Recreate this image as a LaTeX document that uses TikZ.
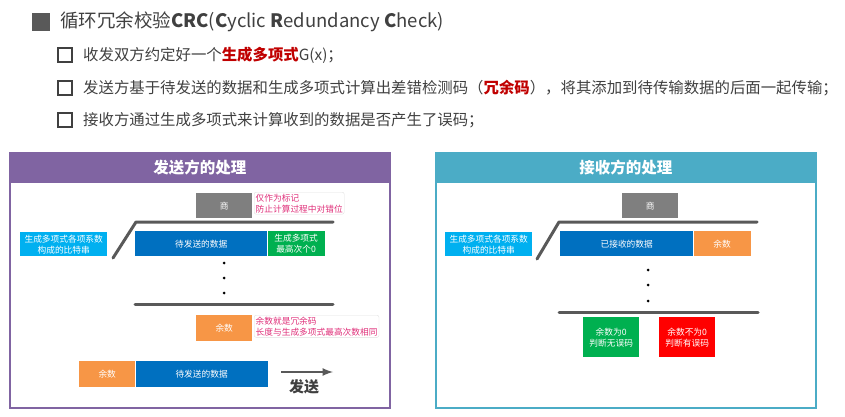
\documentclass[tikz,border=0pt]{standalone}
\usepackage{fontspec}
\setmainfont{Noto Sans CJK SC}
\usepackage{tikz}
\usetikzlibrary{positioning}

\definecolor{txtgray}{HTML}{404040}
\definecolor{keyred}{HTML}{C00000}
\definecolor{sendpurple}{HTML}{8064A2}
\definecolor{recvteal}{HTML}{4BACC6}
\definecolor{datablue}{HTML}{0070C0}
\definecolor{bitcyan}{HTML}{00B0F0}
\definecolor{zerogreen}{HTML}{00B050}
\definecolor{remorange}{HTML}{F79646}
\definecolor{quogray}{HTML}{7F7F7F}
\definecolor{bargray}{HTML}{595959}
\definecolor{notepink}{HTML}{E0307A}

\tikzset{
  bar/.style={fill=#1, text=white, inner sep=0pt, anchor=north west, align=center,
    font=\fontsize{8.7}{11}\selectfont},
  note/.style={anchor=north west, align=left, text=notepink, fill=white, draw=black!12,
    rounded corners=2pt, inner sep=1.5pt, font=\fontsize{8.7}{11}\selectfont},
  panel/.style={draw=#1, line width=1.5, anchor=north west, minimum width=380, minimum height=255, inner sep=0pt},
  head/.style={fill=#1, text=white, anchor=north, minimum width=380, minimum height=31,
    inner sep=0pt, font=\fontsize{15.5}{18}\selectfont\bfseries},
  chk/.style={draw=txtgray, line width=1.2, minimum size=14, inner sep=0pt},
  item/.style={anchor=west, text=txtgray, inner sep=0pt, font=\fontsize{15.4}{18}\selectfont},
  divline/.style={bargray, line width=3, line cap=round, line join=round},
  dot/.style={fill=black}
}

\begin{document}
\begin{tikzpicture}[x=1pt,y=-1pt]
\useasboundingbox (0,0) rectangle (845,417);

% title and bullet list
 \node[fill=bargray, minimum size=18, inner sep=0pt] (tsq) at (41,22) {};
 \node[anchor=west, text=txtgray, inner sep=0pt, font=\fontsize{18.5}{21}\selectfont] (ttl) at (60,22)
   {循环冗余校验\textbf{CRC}(\textbf{C}yclic \textbf{R}edundancy \textbf{C}heck)};
 \node[chk] (c1) at (65,55) {};
 \node[item] (t1) at (83,55) {收发双方约定好一个{\color{keyred}\bfseries 生成多项式}G(x)；};
 \node[chk] (c2) at (65,88) {};
 \node[item] (t2) at (83,88) {发送方基于待发送的数据和生成多项式计算出差错检测码（{\color{keyred}\bfseries 冗余码}），将其添加到待传输数据的后面一起传输；};
 \node[chk] (c3) at (65,120) {};
 \node[item] (t3) at (83,120) {接收方通过生成多项式来计算收到的数据是否产生了误码；};

% sender side
 \node[panel=sendpurple] (panL) at (9,152) {};
 \node[head=sendpurple] (hdL) at (panL.north) {发送方的处理};
 \node[bar=quogray, minimum width=56, minimum height=25] (quoL) at (196,193) {商};
 \node[note] (noteL) at (254,192) {仅作为标记\\防止计算过程中对错位};
 \node[bar=bitcyan, minimum width=87, minimum height=24] (bitsL) at (20,232) {生成多项式各项系数\\构成的比特串};
 \node[bar=datablue, minimum width=132, minimum height=25] (dataL) at (135,231) {待发送的数据};
 \node[bar=zerogreen, minimum width=57, minimum height=25, right=0pt of dataL] (zeroL) {生成多项式\\最高次个0};
   \draw[divline] (113,258) -- (136,222) -- (333,222);
   \foreach \yy in {263,278,293} \fill[dot] (224,\yy) circle (1.5);
   \draw[divline] (135,304) -- (333,304);
 \node[bar=remorange, minimum width=56, minimum height=26] (remL) at (196,315) {余数};
 \node[note] (note2L) at (254,315) {余数就是冗余码\\长度与生成多项式最高次数相同};
 \node[bar=remorange, minimum width=56, minimum height=26] (outR) at (79,361) {余数};
 \node[bar=datablue, minimum width=132, minimum height=26, right=0pt of outR] (outD) {待发送的数据};
  \coordinate (s0) at (281,372);
  \coordinate (s1) at (333,372);
  \coordinate (sm) at (304,372);
   \draw[bargray, line width=2.5, ->, >=latex] (s0) -- (s1);
 \node[text=txtgray, font=\fontsize{15}{18}\selectfont\bfseries, below=4pt of sm] (sendL) {发送};

% receiver side
 \node[panel=recvteal] (panR) at (435,152) {};
 \node[head=recvteal] (hdR) at (panR.north) {接收方的处理};
 \node[bar=quogray, minimum width=56, minimum height=25] (quoR) at (622,193) {商};
 \node[bar=bitcyan, minimum width=87, minimum height=24] (bitsR) at (445,232) {生成多项式各项系数\\构成的比特串};
 \node[bar=datablue, minimum width=133, minimum height=25] (dataR) at (560,231) {已接收的数据};
 \node[bar=remorange, minimum width=57, minimum height=25, right=0pt of dataR] (remR) {余数};
   \draw[divline] (537,259) -- (559,222) -- (757,222);
   \foreach \yy in {270,285,301} \fill[dot] (648,\yy) circle (1.5);
   \draw[divline] (559,312) -- (758,312);
 \node[bar=zerogreen, minimum width=56, minimum height=40] (okR) at (583,317) {余数为0\\判断无误码};
 \node[bar=red, minimum width=56, minimum height=40] (errR) at (659,317) {余数不为0\\判断有误码};
\end{tikzpicture}
\end{document}
